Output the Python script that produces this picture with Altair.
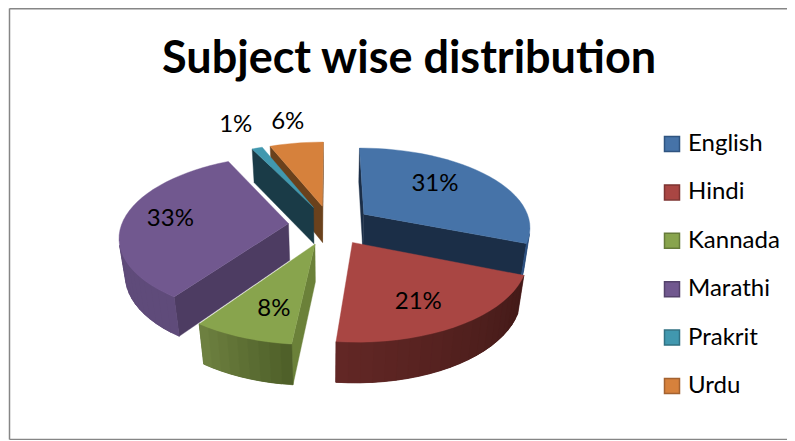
import math
import altair as alt

subjects = ["English", "Hindi", "Kannada", "Marathi", "Prakrit", "Urdu"]
shares = [31.0, 20.6, 8.1, 33.0, 1.2, 6.1]
top_colors = ["#4673A8", "#A94643", "#88A44D", "#71588F", "#4198AF", "#D6813C"]
edge_colors = ["#2F5480", "#7E3432", "#667B3A", "#54426B", "#317183", "#A36230"]
inner_colors = ["#1B2E47", "#451C1A", "#6B8139", "#4D3C62", "#1A3B47", "#6A411C"]
rim_start = ["#2E5180", "#431A18", "#4F6029", "#5F4B7A", "#2C6A7A", "#8A5226"]
rim_end = ["#2E5180", "#622725", "#6D8040", "#5E4A78", "#2C6A7A", "#8A5226"]
draw_order = [5, 4, 3, 0, 2, 1]
label_radius = [0.636, 0.721, 0.709, 0.719, 1.454, 1.402]
label_turn = [-7.5, 4.0, -3.7, 0.0, 0.0, 0.0]

# Tilted-disc camera: the pie is a prism seen in perspective
CX, CY, A, B, K, M, DEPTH, EXPLODE = 322, 217, 167, 79, 0.15, 0.03, 38, 0.25


def project(px, py, z=0.0):
    w = 1 + K * py + M * z
    return [CX + A * px / w, CY + (-B * py + DEPTH * z) / w]


def mix(c1, c2, t):
    a = [int(c1[i:i + 2], 16) for i in (1, 3, 5)]
    b = [int(c2[i:i + 2], 16) for i in (1, 3, 5)]
    return "#" + "".join(f"{round(p + (q - p) * t):02x}" for p, q in zip(a, b))


def area(pts):
    return sum(pts[i][0] * pts[(i + 1) % len(pts)][1] - pts[(i + 1) % len(pts)][0] * pts[i][1]
               for i in range(len(pts))) / 2


def feature(pts, fill, stroke=None):
    return {
        "type": "Feature",
        "geometry": {"type": "Polygon", "coordinates": [pts + [pts[0]]]},
        "properties": {},
        "fill": fill,
        "stroke": stroke or fill,
    }


faces = []
label_rows = []
starts = [sum(shares[:i]) for i in range(len(shares))]
total = sum(shares)
for i in draw_order:
    a0 = 2 * math.pi * starts[i] / total
    a1 = 2 * math.pi * (starts[i] + shares[i]) / total
    mid = (a0 + a1) / 2
    ex, ey = EXPLODE * math.sin(mid), EXPLODE * math.cos(mid)
    n = max(2, math.ceil(shares[i]))
    rim = [(ex + math.sin(a0 + (a1 - a0) * j / n), ey + math.cos(a0 + (a1 - a0) * j / n))
           for j in range(n + 1)]
    apex = (ex, ey)
    # radial walls, only those that face the camera
    for p, q in ((apex, rim[0]), (rim[-1], apex)):
        quad = [project(*p), project(*q), project(*q, 1), project(*p, 1)]
        if area(quad) < 0:
            faces.append(feature(quad, inner_colors[i]))
    # outer wall: a solid base first, then shaded strips over it
    visible = [j for j in range(n)
               if area([project(*rim[j]), project(*rim[j + 1]),
                        project(*rim[j + 1], 1), project(*rim[j], 1)]) < 0]
    if visible:
        span = rim[visible[0]:visible[-1] + 2]
        base = [project(*p) for p in span] + [project(*p, 1) for p in reversed(span)]
        faces.append(feature(base, mix(rim_start[i], rim_end[i], 0.5)))
    for j in visible:
        stop = min(j + 2, visible[-1] + 1)
        quad = [project(*rim[j]), project(*rim[stop]), project(*rim[stop], 1), project(*rim[j], 1)]
        color = mix(rim_start[i], rim_end[i], j / (n - 1 or 1))
        faces.append(feature(quad, color))
    # top face
    top = [project(*apex)] + [project(*p) for p in rim]
    faces.append(feature(top, top_colors[i]))

for i, s in enumerate(subjects):
    a0 = 2 * math.pi * starts[i] / total
    a1 = 2 * math.pi * (starts[i] + shares[i]) / total
    mid = (a0 + a1) / 2
    turn = mid + math.radians(label_turn[i])
    x, y = project(EXPLODE * math.sin(mid) + label_radius[i] * math.sin(turn),
                   EXPLODE * math.cos(mid) + label_radius[i] * math.cos(turn))
    label_rows.append({"x": x, "y": y, "text": f"{round(shares[i])}%"})

W, H = 779, 432
FONT = "Lato"

pie = alt.Chart(alt.InlineData(values=faces)).mark_geoshape(
    strokeWidth=0.4, opacity=1, fillOpacity=1, strokeOpacity=1
).encode(
    fill=alt.Fill("fill:N", scale=None, legend=None),
    stroke=alt.Stroke("stroke:N", scale=None, legend=None),
).project(type="identity", scale=1, translate=[0, 0])

labels = alt.Chart(alt.InlineData(values=label_rows)).mark_text(
    font=FONT, fontSize=24, color="#000000", align="center", baseline="middle"
).encode(
    x=alt.X("x:Q", scale=None),
    y=alt.Y("y:Q", scale=None),
    text="text:N",
)

legend_args = dict(
    title=None, orient="none", legendX=652, legendY=124, symbolType="square",
    symbolSize=225, symbolStrokeWidth=1.5, rowPadding=24.4, labelFont=FONT,
    labelFontSize=24, labelColor="#000000", labelOffset=4, symbolOpacity=1,
)

legend_source = alt.Chart(alt.InlineData(values=[{"subject": s} for s in subjects])).mark_point(
    shape="square", filled=True, size=0, opacity=1, strokeWidth=0
).encode(
    x=alt.value(0),
    y=alt.value(0),
    fill=alt.Fill("subject:N", scale=alt.Scale(domain=subjects, range=top_colors), sort=subjects,
                  legend=alt.Legend(**legend_args)),
    stroke=alt.Stroke("subject:N", scale=alt.Scale(domain=subjects, range=edge_colors), sort=subjects,
                      legend=alt.Legend(**legend_args)),
)

one = alt.InlineData(values=[{"k": 1}])
frame_left = alt.Chart(one).mark_rule(color="#868686", strokeWidth=1.5).encode(
    x=alt.value(1.5), y=alt.value(0.5), y2=alt.value(H - 0.5))
frame_top = alt.Chart(one).mark_rule(color="#868686", strokeWidth=1.5).encode(
    x=alt.value(1.5), x2=alt.value(W), y=alt.value(0.7))
frame_bottom = alt.Chart(one).mark_rule(color="#868686", strokeWidth=1.5).encode(
    x=alt.value(1.5), x2=alt.value(W), y=alt.value(H - 0.5))

chart = alt.layer(frame_left, frame_top, frame_bottom, pie, labels, legend_source).resolve_scale(
    fill="independent", stroke="independent"
).properties(
    width=W,
    height=H,
    padding=0,
    autosize=alt.AutoSizeParams(type="none"),
    background="#FFFFFF",
    title=alt.TitleParams(
        "Subject wise distribution", font=FONT, fontSize=45, fontWeight="bold", color="#000000",
        anchor="start", dx=154, dy=74, offset=0,
    ),
).configure_view(stroke=None)

chart.save("out.html", embed_options={"renderer": "svg", "actions": False})
